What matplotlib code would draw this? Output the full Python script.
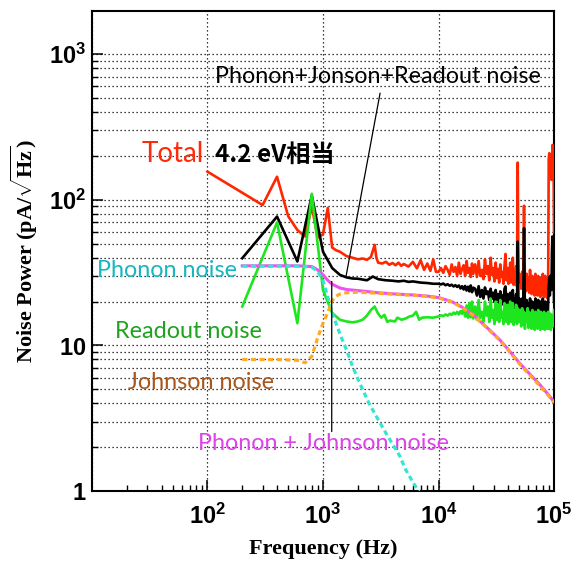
import numpy as np
import matplotlib
matplotlib.use("Agg")
import matplotlib.pyplot as plt
from matplotlib.ticker import FixedLocator, FixedFormatter, NullFormatter

plt.rcParams['mathtext.fontset'] = 'custom'
plt.rcParams['mathtext.sf'] = 'Liberation Sans:bold'
plt.rcParams['mathtext.rm'] = 'Liberation Serif:bold'

# sampling grid of the measured spectra above 10 kHz (Hz)
f_hi = list(np.concatenate([np.arange(10000, 20001, 500),
                            np.arange(20750, 50001, 750),
                            np.arange(51000, 100001, 1000)]))

# Total noise (pA/rtHz)
f_total_lo = [100, 300, 400, 500, 600, 700, 800, 900, 1000, 1100, 1200, 1300,
              1400, 1600, 1800, 2000, 2200, 2400, 2600, 2800, 2900, 3000, 3250,
              3500, 3750, 4000, 4250, 4500, 4750, 5000, 5500, 6000, 6500, 7000,
              7500, 8000, 8500, 9000, 9500]
v_total_lo = [156, 92, 144, 77, 62, 56, 90, 55, 58, 88, 47, 45,
              44, 41, 40, 39, 39.5, 38.7, 40.5, 49, 40, 37, 36.5,
              37.5, 35.8, 36.8, 35.5, 37, 35.2, 36.2, 34.8, 37.5, 33.8, 38.5,
              33, 36.5, 32.5, 39, 32]
v_total_hi = [32, 34, 31.5, 35, 33, 30.5, 36, 32, 34.5, 30,
              37, 31, 33.5, 35.5, 30, 38, 31.5, 34, 29.5, 36.5, 31,
              36, 29.5, 38, 30, 33, 28.5, 39, 31, 35, 28,
              40, 30.5, 34, 27.5, 37, 29, 33.5, 27, 36, 29.5,
              32, 26.5, 35, 42.5, 28, 34, 26.5, 31, 37, 27,
              33, 40, 26, 32, 28, 35, 25.5, 180, 27, 31,
              30, 24.5, 32, 25, 91, 26, 23.5, 31, 24, 29,
              23, 33, 25, 22.5, 30, 24, 28, 22, 31, 23.5,
              27, 22, 30, 23, 26, 21.5, 29, 24, 22, 31,
              23, 27, 21.5, 30, 22.5, 28, 24, 21, 29, 190,
              209, 150, 200, 180, 137, 160, 238, 225, 230, 60]

# Phonon + Johnson + Readout
f_sum_lo = [200, 400, 600, 800, 1000, 1200, 1400, 1600, 1800, 2000, 2400,
            2700, 3000, 3500, 4000, 4500, 5000, 5500, 6000, 7000, 8000, 9000]
v_sum_lo = [39.7, 76.7, 37.7, 107, 44, 34, 30.5, 29.3, 28.8, 28.7, 28,
            29.7, 28.5, 28, 27.8, 27.5, 27.8, 27.3, 27.5, 27, 26.8, 26.5]
v_sum_hi = [26.5, 26.2, 26.6, 25.9, 26.3, 25.7, 26.1, 25.4, 25.9, 25.2,
            25.8, 24.6, 25.5, 24.2, 25.6, 23.8, 25.3, 23.5, 25.8, 23.2, 24.9,
            24.5, 22, 25.5, 21.5, 24, 21, 25, 22.5, 23.5, 20.5,
            24.5, 21, 23, 20, 24, 20.5, 22.5, 19.5, 23.5, 20,
            22, 19, 24.5, 25.4, 19, 22.5, 18.5, 21.5, 23, 18.5,
            22, 24, 18, 21, 18.5, 22.5, 17.5, 51.6, 18, 21,
            20.5, 15.5, 21, 16, 63.8, 16.5, 15, 20.5, 15.5, 19.5,
            14.5, 21, 16, 14.5, 20, 15, 19, 14, 21, 15.5,
            18.5, 14, 20.5, 15, 18, 14, 20, 15.5, 14, 21,
            15, 18.5, 13.8, 20, 14.5, 19, 15.5, 13.5, 20, 25,
            29.5, 22, 30, 26, 24, 45, 56, 50, 40, 20]

# Readout noise
f_readout_lo = [200, 400, 600, 800, 1000, 1200, 1400, 1600, 1800, 2000, 2200,
                2400, 2600, 2800, 3000, 3200, 3400, 3600, 3800, 4200, 4400,
                4800, 5200, 5600, 6000, 6400, 6800, 7200, 8000, 9000]
v_readout_lo = [18.5, 69.8, 14.2, 110, 24, 16.7, 15, 14.6, 14.4, 14.6, 15,
                16, 17.5, 18.5, 16.5, 15.5, 16.2, 14.5, 14.8, 14.6, 15.5,
                15, 15.3, 15.8, 16, 17, 15, 15.5, 15.6, 15.5]
v_readout_hi = [15.8, 16.1, 15.9, 16.3, 16.0, 16.5, 16.2, 16.8, 16.4, 17.0,
                16.3, 17.2, 16.5, 18.0, 15.8, 18.8, 15.5, 19.5, 15.6, 20.0, 15.3,
                18.5, 15, 20.5, 15.5, 17, 14.5, 20, 16, 18.5, 14.5,
                21, 15.5, 17.5, 14, 20, 15, 19, 14.5, 20.5, 15.5,
                17, 14, 19.5, 16, 14.5, 19, 14, 17.5, 20, 14.5,
                18, 19.5, 13.8, 17, 15, 19, 14, 18, 14.5, 17.5,
                17.5, 13.5, 18, 14, 17, 13, 16.5, 14.5, 18, 13.2,
                17, 14, 16, 13, 17.5, 13.5, 16.5, 12.8, 17, 14,
                16, 13, 17.5, 13.5, 15.5, 12.8, 17, 14, 13, 16.5,
                13.5, 17, 12.8, 16, 14, 16.5, 13, 15.5, 17, 13,
                16, 13.5, 16.5, 12.8, 15.5, 14, 16, 13.5, 15, 17.5]

# Phonon noise
f_phonon = [200, 400, 600, 800, 900, 1000, 1100, 1200, 1400, 1600, 1800, 2000,
            2500, 3000, 3500, 4000, 4600, 5200, 6000, 6700, 7500]
v_phonon = [35, 35, 35, 34.5, 32, 28, 21.5, 16.8, 12, 9.3, 7.2, 5.9,
            4.0, 3.1, 2.5, 2.1, 1.75, 1.4, 1.15, 1.0, 0.85]

# Phonon + Johnson
f_pj = [200, 400, 600, 800, 900, 1000, 1100, 1200, 1400, 1600, 2000, 3000,
        4000, 6000, 8000, 10000, 13000, 16000, 20000, 23000, 27000, 34000,
        40000, 50000, 60000, 75000, 87000, 100000]
v_pj = [35.2, 35.2, 35.2, 34.8, 33, 30.5, 28, 26.3, 24.8, 24.2, 23.8, 23,
        22.6, 22.2, 21.8, 21.3, 20, 18.3, 16.2, 14.6, 13, 10.9,
        9.4, 7.6, 6.5, 5.4, 4.7, 4.1]

# Johnson noise
f_johnson = [200, 400, 600, 700, 800, 900, 1000, 1100, 1200, 1300, 1400, 1600,
             2000, 3000, 4000, 6000, 8000, 10000, 13000, 16000, 20000, 23000,
             27000, 34000, 40000, 50000, 60000, 75000, 87000, 100000]
v_johnson = [8, 8, 7.9, 7.6, 8.4, 11.3, 14.2, 16.8, 20.3, 21.8, 22.5, 23.0,
             23.2, 22.8, 22.5, 22.1, 21.7, 21.2, 19.9, 18.2, 16.1, 14.5,
             12.9, 10.8, 9.3, 7.5, 6.4, 5.3, 4.65, 4.05]

fig = plt.figure(figsize=(5.8, 5.61), dpi=100)
ax = fig.add_axes([0.1586, 0.1248, 0.7966, 0.8556])
ax.set_xscale('log')
ax.set_yscale('log')
ax.set_xlim(10, 1e5)
ax.set_ylim(1, 1980)

ax.plot(f_total_lo + f_hi, v_total_lo + v_total_hi, color='#ff2600', lw=1.9, zorder=3)
ax.plot(f_sum_lo + f_hi, v_sum_lo + v_sum_hi, color='black', lw=1.9, zorder=4)
ax.plot(f_readout_lo + f_hi, v_readout_lo + v_readout_hi, color='#1ee61e', lw=1.9, zorder=5)
ax.plot(f_pj, v_pj, color='#f050f0', lw=2.2, zorder=6)
ax.plot(f_phonon, v_phonon, color='#2ee8d2', lw=2.3, ls=(0, (1.6, 1.1)), zorder=7)
ax.plot(f_johnson, v_johnson, color='#ffaa22', lw=2.3, ls=(0, (1.6, 1.1)), zorder=8)

# leader lines from the labels to their curves
line = dict(arrowstyle='-', color='black', lw=0.9, shrinkA=0, shrinkB=0)
ax.annotate('', xy=(1580, 29.6), xytext=(3120, 540), arrowprops=line, zorder=9)
ax.annotate('', xy=(1190, 27.5), xytext=(1190, 2.56), arrowprops=line, zorder=9)

gill = 'Lato'
ax.text(26.9, 181, 'Total', color='#ff2a0a', fontsize=20, family=gill)
ax.text(116, 181, '4.2 eV相当', color='black', fontsize=17.5, fontweight='bold',
        family=['Noto Sans CJK JP', 'DejaVu Sans'])
ax.text(116, 631, 'Phonon+Jonson+Readout noise', color='black', fontsize=16.8, family=gill)
ax.text(11.0, 29.7, 'Phonon noise', color='#17b6c0', fontsize=16.8, family=gill)
ax.text(15.8, 11.2, 'Readout noise', color='#1ea31e', fontsize=16.8, family=gill)
ax.text(20.5, 5.01, 'Johnson noise', color='#a8561a', fontsize=16.8, family=gill)
ax.text(82.8, 1.92, 'Phonon + Johnson noise', color='#dd44e8', fontsize=16.8, family=gill)

# ticks and grid
ax.xaxis.set_major_locator(FixedLocator([10, 100, 1000, 10000, 100000]))
ax.xaxis.set_major_formatter(FixedFormatter(['', r'$\mathsf{10^{2}}$', r'$\mathsf{10^{3}}$',
                                             r'$\mathsf{10^{4}}$', r'$\mathsf{10^{5}}$']))
ax.xaxis.set_minor_locator(FixedLocator([m * d for d in [10, 100, 1000, 10000] for m in range(2, 10)]))
ax.xaxis.set_minor_formatter(NullFormatter())
ax.yaxis.set_major_locator(FixedLocator([1, 10, 100, 1000]))
ax.yaxis.set_major_formatter(FixedFormatter([r'$\mathsf{1}$', r'$\mathsf{10}$',
                                             r'$\mathsf{10^{2}}$', r'$\mathsf{10^{3}}$']))
ax.yaxis.set_minor_locator(FixedLocator([m * d for d in [1, 10, 100, 1000] for m in range(2, 10)]))
ax.yaxis.set_minor_formatter(NullFormatter())

ax.tick_params(which='major', direction='in', length=8, width=1.1, labelsize=17)
ax.tick_params(which='minor', direction='in', length=4.5, width=1.0)
ax.tick_params(axis='x', which='major', pad=9)
ax.tick_params(axis='y', which='major', pad=4)

ax.grid(which='major', axis='x', color='black', lw=0.9, ls=(0, (1, 2.2)))
ax.grid(which='both', axis='y', color='black', lw=0.9, ls=(0, (1, 2.2)))
ax.set_axisbelow(True)
for s in ax.spines.values():
    s.set_linewidth(1.5)

ax.set_xlabel('Frequency (Hz)', family='Liberation Serif', fontweight='bold', fontsize=16)
ax.set_ylabel(r'Noise Power (pA/$\sqrt{\mathrm{Hz}}$)', family='Liberation Serif',
              fontweight='bold', fontsize=16)
ax.xaxis.set_label_coords(0.5, -0.1)
ax.yaxis.set_label_coords(-0.113, 0.5)

fig.savefig('out.png', dpi=100)
